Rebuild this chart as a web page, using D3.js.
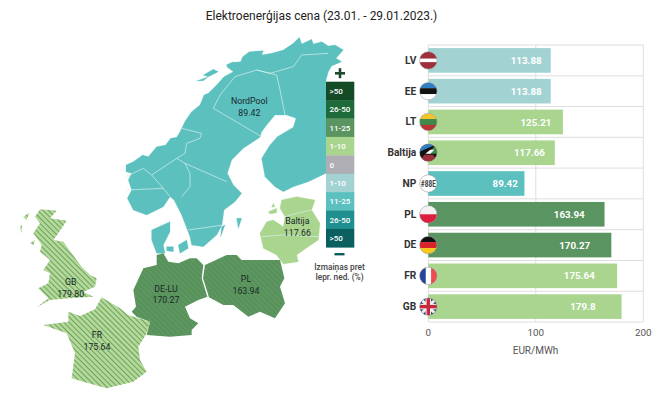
<!DOCTYPE html>
<html><head><meta charset="utf-8">
<script src="https://cdn.jsdelivr.net/npm/d3@7"></script>
<style>html,body{margin:0;background:#fff}svg{display:block;font-family:Roboto,sans-serif}</style>
</head><body><svg id="c" width="659" height="401"></svg>
<script>
const categories=["LV","EE","LT","Baltija","NP","PL","DE","FR","GB"];
const prices=[113.88,113.88,125.21,117.66,89.42,163.94,170.27,175.64,179.8];
const barLabels=["113.88","113.88","125.21","117.66","89.42","163.94","170.27","175.64","179.8"];
const barGroups=["lb","lb","lg","lg","t","g","g","lg","lg"];
const xTicks=[0,100,200];
const legendLabels=[">50","26-50","11-25","1-10","0","1-10","11-25","26-50",">50"];
const legendColors=["#154a26","#1f6a3a","#5a9460","#aad58f","#aeaeb4","#a3d2d3","#5cc0bf","#1f8f8f","#0b5f5f"];
const groupColors={lb:"#a3d2d3",lg:"#aad58f",t:"#5cc0bf",g:"#5a9460"};
const mapLabels=[["NordPool","89.42",748,213],["Baltija","117.66",892,573],["GB","179.80",212,756],["FR","175.64",291,915],["DE-LU","170.27",498,776],["PL","163.94",738,747]];
const nordic=[[378,405],[400,395],[428,375],[445,380],[470,350],[497,345],[512,325],[530,322],[540,305],[556,272],[575,245],[600,225],[612,195],[625,190],[650,165],[672,140],[700,125],[680,110],[700,97],[722,95],[728,80],[748,65],[790,62],[785,75],[815,70],[850,60],[880,40],[898,22],[905,42],[935,28],[940,42],[965,35],[985,48],[1005,45],[1030,60],[1008,85],[1025,95],[995,108],[985,125],[978,150],[978,430],[925,455],[880,470],[850,485],[825,470],[795,440],[785,385],[810,345],[832,320],[880,292],[888,265],[860,255],[825,255],[800,285],[785,305],[780,322],[730,355],[695,390],[682,430],[700,465],[725,490],[705,515],[672,540],[666,585],[650,615],[610,650],[575,645],[570,620],[545,555],[522,510],[510,500],[490,530],[440,555],[400,540],[382,505],[395,480],[385,450],[395,430],[378,425]];
const nordicIslands=[[[590,153],[625,140],[610,152]],[[610,135],[640,118],[655,125],[625,140]],[[678,105],[700,95],[690,110]],[[455,600],[510,575],[510,605],[490,645],[495,670],[470,670],[455,630]],[[500,650],[520,650],[520,665],[500,662]],[[535,645],[560,630],[565,655],[540,670]],[[710,565],[725,565],[715,595]],[[665,590],[675,585],[662,620]]];
const nordicBorders=[[[640,235],[785,320]],[[640,235],[660,195],[705,140],[770,120],[830,135],[840,180],[855,255]],[[770,120],[810,130],[880,110],[905,75],[985,70]],[[545,295],[605,310],[600,325],[560,340],[555,370],[530,385],[455,435],[490,475],[510,500]],[[530,385],[555,400],[570,430],[570,470],[545,500]],[[555,400],[680,455]],[[430,415],[455,435]],[[380,480],[490,475]],[[378,440],[430,415]],[[565,600],[670,585]]];
const baltic=[[845,510],[890,500],[945,510],[935,540],[960,580],[955,630],[925,650],[890,675],[895,695],[850,702],[830,675],[790,655],[780,610],[800,575],[820,570],[850,590],[855,560],[840,535]];
const balticIslands=[[[805,545],[830,535],[830,548],[810,552]],[[820,520],[825,530],[815,532]]];
const balticBorders=[[[785,620],[850,615],[955,620]],[[855,560],[890,550],[935,540]]];
const germany=[[470,675],[490,670],[505,695],[535,700],[570,685],[590,685],[610,705],[605,745],[622,800],[595,810],[555,830],[570,865],[595,880],[575,900],[575,915],[510,920],[440,915],[450,875],[410,860],[395,845],[408,830],[400,780],[430,715],[470,705]];
const poland=[[615,705],[680,675],[710,675],[725,690],[840,690],[853,745],[840,770],[855,820],[825,865],[780,845],[745,860],[700,825],[670,825],[627,802],[609,745]];
const france=[[305,802],[360,835],[385,855],[450,875],[440,910],[415,950],[420,990],[440,1025],[400,1055],[320,1075],[250,1055],[215,1045],[225,970],[200,910],[130,885],[205,875],[205,845],[240,858],[285,838]];
const gb=[[120,538],[170,542],[150,565],[200,572],[175,610],[160,630],[190,635],[215,670],[245,710],[270,735],[290,745],[285,770],[250,785],[280,800],[205,805],[150,810],[110,832],[145,805],[115,775],[145,760],[150,730],[130,720],[150,690],[120,665],[125,645],[100,610],[120,580],[105,560]];
const gbIslands=[[[70,560],[88,548],[80,570]],[[60,590],[66,585],[64,610]],[[90,640],[105,630],[100,645]]];

const svg=d3.select("#c");
const defs=svg.append("defs");
function hatch(id,bg,line,w,s){
  const p=defs.append("pattern").attr("id",id).attr("patternUnits","userSpaceOnUse").attr("width",s).attr("height",s).attr("patternTransform","rotate(45)");
  p.append("rect").attr("width",s).attr("height",s).attr("fill",bg);
  p.append("rect").attr("width",s).attr("height",w).attr("fill",line);
}
hatch("hl","#b3da98","#6f9e62",1,3.8);
hatch("hd","#5d975f","#548d59",1,3.8);

const mx=d3.scaleLinear([0,1140],[0,380]),my=d3.scaleLinear([0,1200],[30,430]);
const line=d3.line().x(d=>mx(d[0])).y(d=>my(d[1]));
const closed=a=>line(a)+"Z";
function shape(list,fill){svg.append("g").selectAll("path").data(list).join("path").attr("d",closed).attr("fill",fill).attr("stroke",fill==="#5cc0bf"||fill==="#aad58f"?fill:"none").attr("stroke-width",.3);}
shape([nordic,...nordicIslands],"#5cc0bf");
shape([baltic,...balticIslands],"#aad58f");
shape([germany,poland],"url(#hd)");
shape([france,gb,...gbIslands],"url(#hl)");
svg.append("g").selectAll("path").data([...nordicBorders,...balticBorders]).join("path").attr("d",line).attr("fill","none").attr("stroke","#d6efee").attr("stroke-width",.7);

mapLabels.forEach(d=>{
  const g=svg.append("text").attr("text-anchor","middle").attr("font-size",8.8).attr("fill","#1a2a2a");
  g.append("tspan").attr("x",mx(d[2])).attr("y",my(d[3])+3.3).text(d[0]);
  g.append("tspan").attr("x",mx(d[2])).attr("y",my(d[3])+14.8).text(d[1]);
});

svg.append("text").attr("x",321.5).attr("y",20).attr("text-anchor","middle").attr("font-size",12).attr("fill","#222").text("Elektroenerģijas cena (23.01. - 29.01.2023.)");

// legend
const ly=d3.scaleBand().domain(d3.range(legendLabels.length)).range([81.7,247.3]);
const lg=svg.append("g");
lg.selectAll("rect").data(legendColors).join("rect").attr("x",326).attr("width",28.3).attr("y",(d,i)=>ly(i)).attr("height",ly.bandwidth()+.3).attr("fill",d=>d);
lg.selectAll("text").data(legendLabels).join("text").attr("x",329.5).attr("y",(d,i)=>ly(i)+ly.bandwidth()/2+3).attr("font-size",8).attr("font-weight",500).attr("fill","#fff").text(d=>d);
svg.append("rect").attr("x",335).attr("y",72).attr("width",10).attr("height",2.6).attr("fill","#1d4a2a");
svg.append("rect").attr("x",338.7).attr("y",68.2).attr("width",2.6).attr("height",10).attr("fill","#1d4a2a");
svg.append("rect").attr("x",334.5).attr("y",253).attr("width",10).attr("height",2.4).attr("fill","#0b5f5f");
svg.append("text").attr("x",339.5).attr("y",270).attr("text-anchor","middle").attr("font-size",8.3).attr("font-weight",500).attr("fill","#444").text("Izmaiņas pret");
svg.append("text").attr("x",339.5).attr("y",280).attr("text-anchor","middle").attr("font-size",8.3).attr("font-weight",500).attr("fill","#444").text("Iepr. ned. (%)");

// bars
const x=d3.scaleLinear([0,200],[428.3,643.3]);
const y=d3.scaleBand().domain(categories).range([45,322]).paddingInner(.2).paddingOuter(.1);
const step=y.step();
const grid=svg.append("g").attr("stroke","#dedede").attr("stroke-width",1);
grid.selectAll("line.v").data(xTicks).join("line").attr("class","v").attr("x1",d=>x(d)).attr("x2",d=>x(d)).attr("y1",45).attr("y2",322);
grid.selectAll("line.h").data(d3.range(categories.length+1)).join("line").attr("class","h").attr("x1",x(0)).attr("x2",x(200)).attr("y1",i=>45+i*step).attr("y2",i=>45+i*step);
const row=svg.append("g").selectAll("g").data(categories).join("g");
row.append("rect").attr("x",x(0)).attr("y",d=>y(d)).attr("height",y.bandwidth()).attr("width",(d,i)=>x(prices[i])-x(0)).attr("fill",(d,i)=>groupColors[barGroups[i]]);
row.append("text").attr("x",(d,i)=>x(prices[i]*.8)).attr("y",d=>y(d)+y.bandwidth()/2+3.6).attr("text-anchor","middle").attr("font-size",9.8).attr("font-weight",700).attr("fill","#fff").text((d,i)=>barLabels[i]);
row.append("text").attr("x",x(0)-12).attr("y",d=>y(d)+y.bandwidth()/2+3.4).attr("text-anchor","end").attr("font-size",10.2).attr("font-weight",700).attr("fill","#333").text(d=>d);

const flags={
 LV:[["#9e3039",0,.4],["#fff",.4,.2],["#9e3039",.6,.4]],
 EE:[["#2f7fc4",0,.33],["#111",.33,.34],["#fff",.67,.33]],
 LT:[["#f2c52c",0,.33],["#3f8a4a",.33,.34],["#b93434",.67,.33]],
 PL:[["#f3f3f3",0,.5],["#dc1f3f",.5,.5]],
 DE:[["#111",0,.33],["#d8232a",.33,.34],["#f7c81e",.67,.33]],
};
const R=8.7;
categories.forEach((c,i)=>{
  const cy=y(c)+y.bandwidth()/2,cx=x(0);
  const cid="f"+i;
  defs.append("clipPath").attr("id",cid).append("circle").attr("cx",cx).attr("cy",cy).attr("r",R);
  const g=svg.append("g").attr("clip-path",`url(#${cid})`);
  g.append("rect").attr("x",cx-R).attr("y",cy-R).attr("width",2*R).attr("height",2*R).attr("fill","#fff");
  if(flags[c]) flags[c].forEach(s=>g.append("rect").attr("x",cx-R).attr("width",2*R).attr("y",cy-R+s[1]*2*R).attr("height",s[2]*2*R+.2).attr("fill",s[0]));
  if(c==="FR"){[["#26459a",0,.36],["#fff",.36,.3],["#ee4a4f",.66,.34]].forEach(s=>g.append("rect").attr("y",cy-R).attr("height",2*R).attr("x",cx-R+s[1]*2*R).attr("width",s[2]*2*R).attr("fill",s[0]));}
  if(c==="GB"){
    g.append("rect").attr("x",cx-R).attr("y",cy-R).attr("width",2*R).attr("height",2*R).attr("fill","#27356f");
    [[-1,-1,1,1],[-1,1,1,-1]].forEach(a=>g.append("line").attr("x1",cx+a[0]*R).attr("y1",cy+a[1]*R).attr("x2",cx+a[2]*R).attr("y2",cy+a[3]*R).attr("stroke","#eee").attr("stroke-width",3));
    g.append("rect").attr("x",cx-R).attr("y",cy-2.8).attr("width",2*R).attr("height",5.6).attr("fill","#eee");
    g.append("rect").attr("x",cx-2.8).attr("y",cy-R).attr("width",5.6).attr("height",2*R).attr("fill","#eee");
    g.append("rect").attr("x",cx-R).attr("y",cy-1.7).attr("width",2*R).attr("height",3.4).attr("fill","#c8283c");
    g.append("rect").attr("x",cx-1.7).attr("y",cy-R).attr("width",3.4).attr("height",2*R).attr("fill","#c8283c");
  }
  if(c==="Baltija"){
    g.append("rect").attr("x",cx-R).attr("y",cy-R).attr("width",2*R).attr("height",2*R).attr("fill","#111");
    g.append("path").attr("d",d3.line()([[cx-R,cy-R],[cx+R,cy-R],[cx-R,cy-1]])+"Z").attr("fill","#2f7fc4");
    g.append("path").attr("d",d3.line()([[cx+R,cy-R],[cx+R,cy+1],[cx,cy+1],[cx+3,cy-3]])+"Z").attr("fill","#3f8a4a");
    g.append("path").attr("d",d3.line()([[cx-4,cy+2],[cx+5,cy+2],[cx+R,cy+R],[cx-R,cy+R]])+"Z").attr("fill","#9e3039");
    g.append("path").attr("d",d3.line()([[cx-3,cy+1],[cx+2,cy-3],[cx+6,cy-3],[cx+2,cy+1]])+"Z").attr("fill","#fff");
  }
  if(c==="NP"){
    g.append("text").attr("x",cx).attr("y",cy+3.2).attr("text-anchor","middle").attr("font-size",9).attr("font-weight",700).attr("fill","#444").attr("textLength",15).attr("lengthAdjust","spacingAndGlyphs").text("#88E");
  }
  svg.append("circle").attr("cx",cx).attr("cy",cy).attr("r",R).attr("fill","none").attr("stroke","#888").attr("stroke-opacity",.7).attr("stroke-width",.7);
});

svg.append("g").selectAll("text").data(xTicks).join("text").attr("x",d=>x(d)).attr("y",336).attr("text-anchor","middle").attr("font-size",9.8).attr("fill","#555").text(d=>d);
svg.append("text").attr("x",535.5).attr("y",354).attr("text-anchor","middle").attr("font-size",10).attr("fill","#555").text("EUR/MWh");
</script></body></html>
